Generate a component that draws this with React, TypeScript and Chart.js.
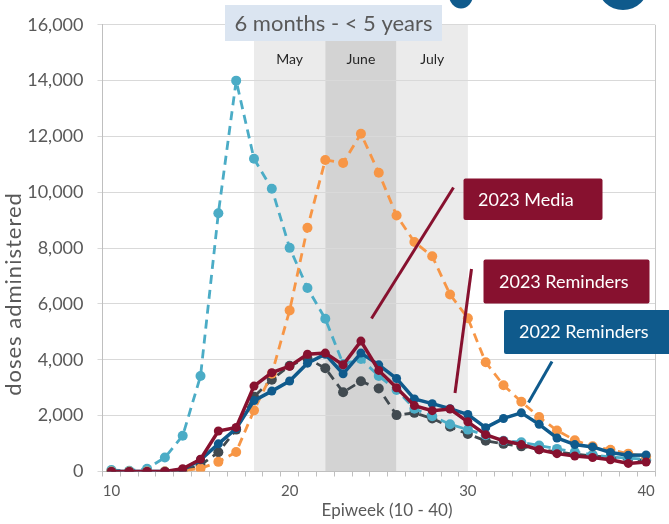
import React, { useEffect, useRef } from "react";
import { Chart, registerables } from "chart.js";

Chart.register(...registerables);

// ---------- data ----------
const weeks = [
  "10", "11", "12", "13", "14", "15", "16", "17", "18", "19", "20",
  "21", "22", "23", "24", "25", "26", "27", "28", "29", "30",
  "31", "32", "33", "34", "35", "36", "37", "38", "39", "40",
];

const lightBlueDoses = [
  50, 30, 100, 500, 1280, 3420, 9250, 14000, 11200, 10130, 8010,
  6570, 5470, 3850, 4030, 3420, 2920, 2250, 1980, 1690, 1500,
  1300, 1100, 1050, 930, 810, 700, 600, 520, 480, 440,
];

const orangeDoses = [
  0, 0, 0, 0, 20, 110, 345, 700, 2190, 3500, 5770,
  8730, 11160, 11050, 12100, 10700, 9170, 8220, 7710, 6340, 5490,
  3910, 3090, 2500, 1950, 1470, 1120, 900, 780, 640, 540,
];

const grayDoses = [
  0, 0, 0, 0, 30, 230, 690, 1500, 2680, 3290, 3790,
  4050, 3700, 2840, 3230, 2970, 2020, 2100, 1900, 1600, 1340,
  1100, 990, 900, 800, 700, 620, 560, 500, 450, 400,
];

const blueDoses = [
  0, 0, 0, 0, 60, 420, 990, 1540, 2540, 2880, 3240,
  3880, 4200, 3500, 4240, 3820, 3330, 2600, 2430, 2250, 2040,
  1570, 1900, 2100, 1690, 1200, 965, 880, 680, 580, 590,
];

const maroonDoses = [
  0, 0, 0, 0, 100, 440, 1450, 1580, 3060, 3540, 3770,
  4200, 4240, 3820, 4670, 3620, 3000, 2360, 2180, 2240, 1780,
  1320, 1100, 965, 780, 640, 555, 500, 420, 290, 340,
];

const yTickValues = [0, 2000, 4000, 6000, 8000, 10000, 12000, 14000, 16000];
const xLabelWeeks = ["10", "20", "30", "40"];

const monthNames = ["May", "June", "July"];
const monthStartWeeks = ["18", "22", "26"];
const monthEndWeeks = ["22", "26", "30"];

const panelTitle = "6 months - < 5 years";
const xAxisTitle = "Epiweek (10 - 40)";
const yAxisTitle = "doses administered";
const calloutTexts = ["2023 Media", "2023 Reminders", "2022 Reminders"];

// ---------- styling ----------
const FONT = "Lato, 'Open Sans', sans-serif";
const GRAY_TEXT = "#595959";
const MAROON = "#87112f";
const NAVY = "#0f5a8c";
const LIGHT_BLUE = "#4bacc6";
const ORANGE = "#f79646";
const DARK_GRAY = "#414a50";

const decorPlugin = {
  id: "decor",
  beforeDraw(chart: any) {
    const { ctx, chartArea, scales } = chart;
    const x = scales.x;
    ctx.save();
    monthNames.forEach((_m, i) => {
      const x0 = x.getPixelForValue(weeks.indexOf(monthStartWeeks[i]));
      const x1 = x.getPixelForValue(weeks.indexOf(monthEndWeeks[i]));
      ctx.fillStyle = i === 1 ? "#d3d3d3" : "#ebebeb";
      ctx.fillRect(x0, chartArea.top, x1 - x0, chartArea.bottom - chartArea.top);
    });
    ctx.restore();
  },
  beforeDatasetsDraw(chart: any) {
    const { ctx, chartArea } = chart;
    ctx.save();
    ctx.strokeStyle = "#c8c8c8";
    ctx.lineWidth = 1;
    ctx.beginPath();
    ctx.moveTo(Math.round(chartArea.right) + 0.5, chartArea.top);
    ctx.lineTo(Math.round(chartArea.right) + 0.5, chartArea.bottom);
    ctx.stroke();
    ctx.restore();
  },
  afterDatasetsDraw(chart: any) {
    const { ctx, scales } = chart;
    const x = scales.x;
    ctx.save();

    // month labels
    ctx.fillStyle = "#262626";
    ctx.font = `14px ${FONT}`;
    ctx.textAlign = "center";
    ctx.textBaseline = "middle";
    monthNames.forEach((m, i) => {
      const x0 = x.getPixelForValue(weeks.indexOf(monthStartWeeks[i]));
      const x1 = x.getPixelForValue(weeks.indexOf(monthEndWeeks[i]));
      ctx.fillText(m, (x0 + x1) / 2, 59);
    });

    // panel title box
    ctx.fillStyle = "#dbe5f1";
    ctx.fillRect(225, 5, 217, 36);
    ctx.fillStyle = GRAY_TEXT;
    ctx.font = `22px ${FONT}`;
    ctx.textAlign = "center";
    ctx.fillText(panelTitle, 333.5, 23.5);

    // callout leader lines
    const line = (x0: number, y0: number, x1: number, y1: number, c: string) => {
      ctx.strokeStyle = c;
      ctx.lineWidth = 3;
      ctx.lineCap = "butt";
      ctx.beginPath();
      ctx.moveTo(x0, y0);
      ctx.lineTo(x1, y1);
      ctx.stroke();
    };
    line(453.5, 187.5, 371.5, 318.5, MAROON);
    line(471.5, 269, 455, 393, MAROON);
    line(552, 361.5, 528.5, 402.5, NAVY);

    // callout boxes
    const box = (x0: number, y0: number, w: number, h: number, c: string, t: string, tx: number) => {
      ctx.fillStyle = c;
      ctx.beginPath();
      ctx.roundRect(x0, y0, w, h, 2);
      ctx.fill();
      ctx.fillStyle = "#ffffff";
      ctx.font = `18px ${FONT}`;
      ctx.textAlign = "left";
      ctx.textBaseline = "middle";
      ctx.fillText(t, tx, y0 + h / 2 + 0.5);
    };
    box(463.5, 178.5, 139, 41.5, MAROON, calloutTexts[0], 478);
    box(483.5, 259.5, 166, 44, MAROON, calloutTexts[1], 499);
    box(504, 310, 170, 44, NAVY, calloutTexts[2], 519);

    // axis titles
    ctx.fillStyle = GRAY_TEXT;
    ctx.font = `17px ${FONT}`;
    ctx.textAlign = "center";
    ctx.textBaseline = "middle";
    ctx.fillText(xAxisTitle, 387, 511);
    ctx.save();
    ctx.translate(14, 294);
    ctx.rotate(-Math.PI / 2);
    ctx.font = `22px ${FONT}`;
    (ctx as any).letterSpacing = "1px";
    ctx.fillText(yAxisTitle, 0, 0);
    ctx.restore();

    // cropped logo fragments at the top edge
    ctx.fillStyle = NAVY;
    ctx.beginPath();
    ctx.ellipse(461, -5, 12, 13.5, 0, 0, Math.PI * 2);
    ctx.fill();
    ctx.beginPath();
    ctx.ellipse(623, -14, 25, 24, 0, 0, Math.PI * 2);
    ctx.fill();

    ctx.restore();
  },
};

function dashedSeries(label: string, data: number[], color: string) {
  return {
    label,
    data,
    borderColor: color,
    backgroundColor: color,
    borderWidth: 2.8,
    borderDash: [9, 6],
    pointRadius: 5,
    pointBackgroundColor: color,
    pointBorderColor: color,
    pointBorderWidth: 0,
    tension: 0,
    fill: false,
  };
}

function solidSeries(label: string, data: number[], color: string) {
  return {
    label,
    data,
    borderColor: color,
    backgroundColor: color,
    borderWidth: 3.5,
    pointRadius: 4.5,
    pointBackgroundColor: color,
    pointBorderColor: color,
    pointBorderWidth: 0,
    tension: 0,
    fill: false,
  };
}

export default function App() {
  const canvasRef = useRef<HTMLCanvasElement | null>(null);

  useEffect(() => {
    const canvas = canvasRef.current;
    if (!canvas) return;
    const chart = new Chart(canvas, {
      type: "line",
      data: {
        labels: weeks,
        datasets: [
          solidSeries("Maroon series", maroonDoses, MAROON),
          solidSeries("Navy series", blueDoses, NAVY),
          dashedSeries("Orange series", orangeDoses, ORANGE),
          dashedSeries("Light blue series", lightBlueDoses, LIGHT_BLUE),
          dashedSeries("Gray series", grayDoses, DARK_GRAY),
        ],
      },
      options: {
        responsive: false,
        animation: false,
        devicePixelRatio: 1,
        layout: { padding: { left: 0, right: 14, top: 14.7, bottom: 0 } },
        plugins: {
          legend: { display: false },
          tooltip: { enabled: false },
          title: { display: false },
        },
        scales: {
          x: {
            type: "category",
            offset: true,
            grid: {
              display: true,
              drawOnChartArea: false,
              drawTicks: true,
              tickLength: 5,
              offset: true,
              color: "#bfbfbf",
            },
            border: { color: "#bfbfbf", width: 1 },
            ticks: {
              autoSkip: false,
              maxRotation: 0,
              padding: 6,
              color: GRAY_TEXT,
              font: { family: FONT, size: 15 },
              callback: (_v: any, i: number) =>
                xLabelWeeks.includes(weeks[i]) ? weeks[i] : "",
            },
            afterFit: (s: any) => {
              s.height = 52.5;
            },
          },
          y: {
            min: 0,
            max: 16000,
            afterBuildTicks: (s: any) => {
              s.ticks = yTickValues.map((v) => ({ value: v }));
            },
            ticks: {
              padding: 14,
              color: GRAY_TEXT,
              font: { family: FONT, size: 18 },
              callback: (v: any) => Number(v).toLocaleString("en-US"),
            },
            grid: { color: "#d9d9d9", tickLength: 5, lineWidth: 1 },
            border: { color: "#bfbfbf", width: 1 },
            afterFit: (s: any) => {
              s.width = 102.5;
            },
          },
        },
      },
      plugins: [decorPlugin],
    });
    return () => chart.destroy();
  }, []);

  return (
    <div style={{ position: "absolute", left: 0, top: 0, width: 669, height: 524, background: "#ffffff" }}>
      <canvas ref={canvasRef} width={669} height={524} style={{ display: "block" }} />
    </div>
  );
}
